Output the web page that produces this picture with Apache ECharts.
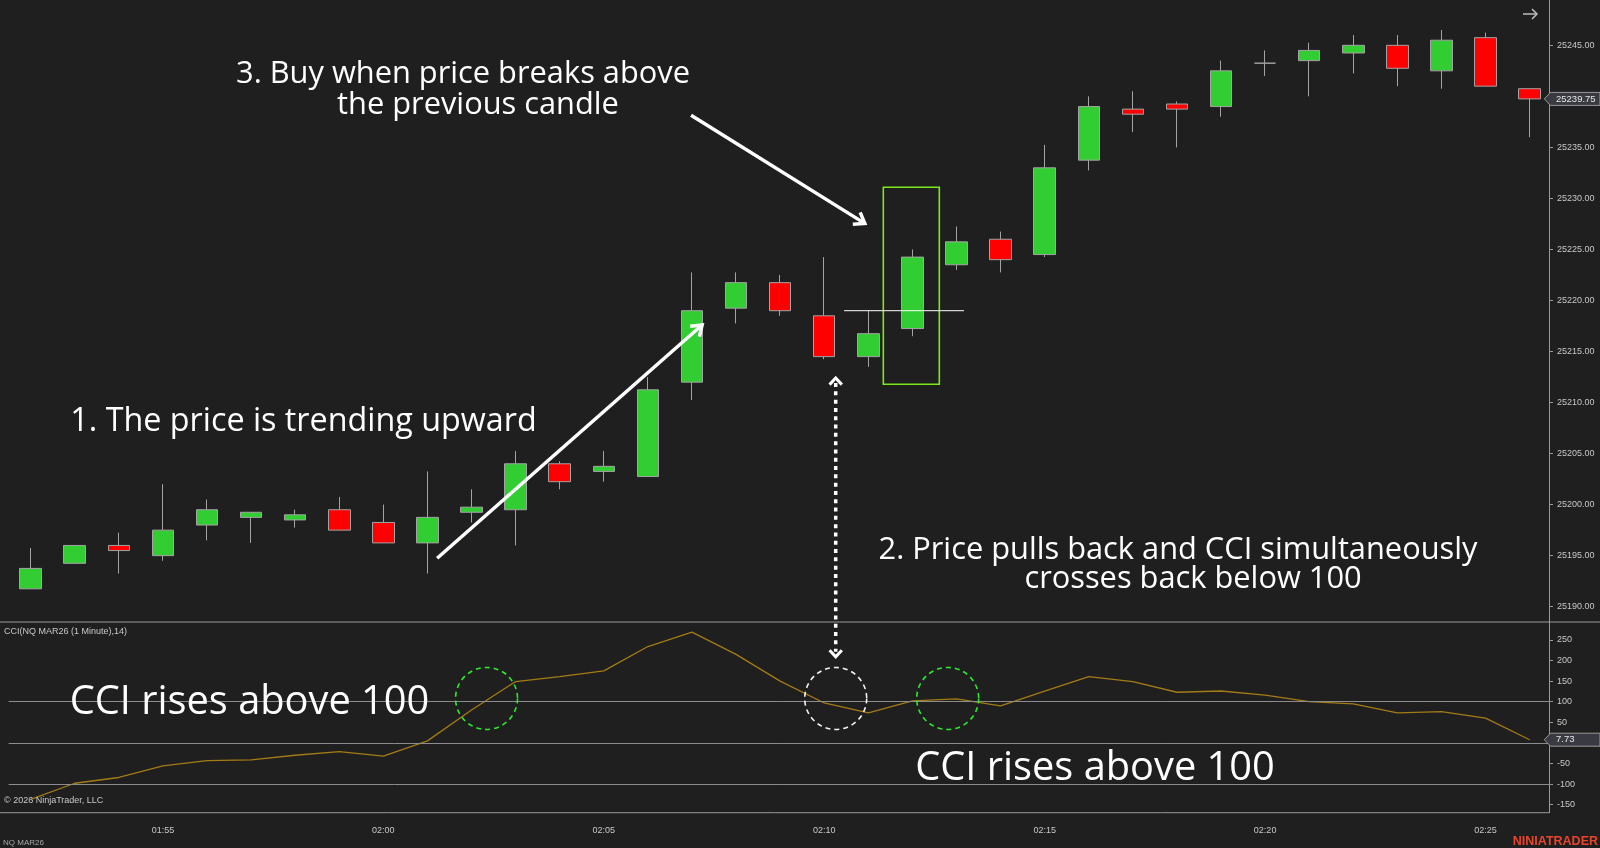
<!DOCTYPE html>
<html>
<head>
<meta charset="utf-8">
<title>CCI pullback entry</title>
<script src="https://cdn.jsdelivr.net/npm/echarts@6.0.0/dist/echarts.min.js"></script>
<style>
    html, body { margin: 0; padding: 0; background: #1f1f1f; }
    #main { width: 1600px; height: 848px; }
</style>
</head>
<body>
<div id="main"></div>
<script>
'use strict';

// NQ MAR26, 1 minute bars
var times = ['01:52', '01:53', '01:54', '01:55', '01:56', '01:57', '01:58', '01:59', '02:00', '02:01',
    '02:02', '02:03', '02:04', '02:05', '02:06', '02:07', '02:08', '02:09', '02:10', '02:11',
    '02:12', '02:13', '02:14', '02:15', '02:16', '02:17', '02:18', '02:19', '02:20', '02:21',
    '02:22', '02:23', '02:24', '02:25', '02:26'];
var opens = [25191.75, 25194.25, 25196, 25195, 25198, 25198.75, 25198.5, 25199.5, 25198.25, 25196.25,
    25199.25, 25199.5, 25204, 25203.25, 25202.75, 25212, 25219.25, 25221.75, 25218.5, 25214.5,
    25217.25, 25223.5, 25226, 25224.5, 25233.75, 25238.75, 25239.25, 25239, 25243.25, 25243.5,
    25244.25, 25245, 25242.5, 25245.75, 25240.75];
var closes = [25193.75, 25196, 25195.5, 25197.5, 25199.5, 25199.25, 25199, 25197.5, 25196.25, 25198.75,
    25199.75, 25204, 25202.25, 25203.75, 25211.25, 25219, 25221.75, 25219, 25214.5, 25216.75,
    25224.25, 25225.75, 25224, 25233, 25239, 25238.25, 25238.75, 25242.5, 25243.25, 25244.5,
    25245, 25242.75, 25245.5, 25241, 25239.75];
var lows = [25191.75, 25194.25, 25193.25, 25194.5, 25196.5, 25196.25, 25197.75, 25197.5, 25196.25, 25193.25,
    25198.25, 25196, 25201.5, 25202.25, 25202.75, 25210.25, 25217.75, 25218.5, 25214.25, 25213.5,
    25216.5, 25223, 25222.75, 25224.25, 25232.75, 25236.5, 25235, 25238, 25242, 25240,
    25242.25, 25241, 25240.75, 25241, 25236];
var highs = [25195.75, 25196, 25197.25, 25202, 25200.5, 25199.25, 25199.5, 25200.75, 25200, 25203.25,
    25201.5, 25205.25, 25204.25, 25205.25, 25212.5, 25222.75, 25222.75, 25222.5, 25224.25, 25219,
    25225, 25227.25, 25226.75, 25235.25, 25240, 25240.5, 25239.5, 25243.5, 25244.5, 25245.25,
    25246, 25246, 25246.5, 25246.25, 25240.75];
// CCI(14)
var cci = [-137, -98, -84, -56, -43, -41, -30, -21, -32, 5,
    80, 149, 161, 175, 234, 269, 215, 150, 97, 73,
    102, 107, 90, 126, 161, 149, 123, 126, 116, 100,
    95, 73, 76, 60, 7.73];

var priceTicks = [25190, 25195, 25200, 25205, 25210, 25215, 25220, 25225, 25230, 25235, 25240, 25245];
var cciTicks = [-150, -100, -50, 50, 100, 150, 200, 250];
var cciLevels = [100, 0, -100];

// annotation anchors: [bar index, value]
var trendArrow = [[9.22, 25194.75], [15.23, 25217.6]];
var buyArrow = [[14.98, 25238.15], [18.92, 25227.55]];
var buyBox = [[19.34, 25231.1], [20.61, 25211.8]];
var breakLine = [[18.45, 25219], [21.17, 25219]];
var pullback = { bar: 18.26, price: 25212.4, cci: 209 };
var cciCircles = [[10.34, 108], [18.26, 108], [20.8, 108]];

var axisFont = '"Liberation Sans", Arial, sans-serif';
var noteFont = '"Open Sans", sans-serif';
var lineGray = '#9a9a9a';

var chart = echarts.init(document.getElementById('main'));

var candles = times.map(function(t, i) {
    return [opens[i], closes[i], lows[i], highs[i]];
});

var option = {
    backgroundColor: '#1f1f1f',
    animation: false,
    grid: [
        { left: 8.6, width: 1543.1, top: 0, height: 622 },
        { left: 8.6, width: 1543.1, top: 622, height: 190.7 }
    ],
    xAxis: [{
        type: 'category',
        gridIndex: 0,
        data: times,
        show: false
    }, {
        type: 'category',
        gridIndex: 1,
        data: times,
        axisLine: { show: false },
        axisTick: {
            alignWithLabel: true,
            length: 4,
            interval: function(i, v) { return /[05]$/.test(v); },
            lineStyle: { color: lineGray }
        },
        axisLabel: {
            interval: function(i, v) { return /[05]$/.test(v); },
            color: '#c8c8c8',
            fontSize: 9,
            fontFamily: axisFont,
            margin: 13
        },
        splitLine: { show: false }
    }],
    yAxis: [{
        type: 'value',
        gridIndex: 0,
        position: 'right',
        offset: -2.7,
        min: 25188.5,
        max: 25249.44,
        splitLine: { show: false },
        axisLine: { show: true, lineStyle: { color: lineGray } },
        axisTick: { show: true, length: 4, customValues: priceTicks, lineStyle: { color: lineGray } },
        axisLabel: {
            customValues: priceTicks,
            formatter: function(v) { return v.toFixed(2); },
            color: '#c8c8c8',
            fontSize: 9,
            fontFamily: axisFont,
            margin: 8
        }
    }, {
        type: 'value',
        gridIndex: 1,
        position: 'right',
        offset: -2.7,
        min: -169.5,
        max: 293.6,
        splitLine: { show: false },
        axisLine: { show: true, lineStyle: { color: lineGray } },
        axisTick: { show: true, length: 4, customValues: cciTicks, lineStyle: { color: lineGray } },
        axisLabel: {
            customValues: cciTicks,
            color: '#c8c8c8',
            fontSize: 9,
            fontFamily: axisFont,
            margin: 8
        }
    }],
    series: [{
        name: 'NQ MAR26',
        type: 'candlestick',
        xAxisIndex: 0,
        yAxisIndex: 0,
        data: candles,
        barWidth: 22,
        itemStyle: {
            color: '#32cd32',
            color0: '#ff0000',
            borderColor: '#a3a3a3',
            borderColor0: '#a3a3a3',
            borderColorDoji: '#a3a3a3',
            borderWidth: 1
        }
    }, {
        name: 'CCI',
        type: 'line',
        xAxisIndex: 1,
        yAxisIndex: 1,
        data: cci,
        symbol: 'none',
        lineStyle: { color: '#a47c16', width: 1.3 },
        markLine: {
            silent: true,
            symbol: 'none',
            label: { show: false },
            lineStyle: { color: '#8c8c8c', type: 'solid', width: 1 },
            data: cciLevels.map(function(v) { return { yAxis: v }; })
        }
    }]
};
chart.setOption(option);

// pixel helpers, fractional bar index allowed
function xAt(idx) {
    var a = chart.convertToPixel({ xAxisIndex: 0 }, times[0]);
    var b = chart.convertToPixel({ xAxisIndex: 0 }, times[1]);
    return a + (b - a) * idx;
}
function yPrice(v) { return chart.convertToPixel({ yAxisIndex: 0 }, v); }
function yCci(v) { return chart.convertToPixel({ yAxisIndex: 1 }, v); }

function chevron(x, y, ang, len, spread) {
    return [
        [x - len * Math.cos(ang - spread), y - len * Math.sin(ang - spread)],
        [x, y],
        [x - len * Math.cos(ang + spread), y - len * Math.sin(ang + spread)]
    ];
}

function line(x1, y1, x2, y2, stroke, w, dash) {
    return {
        type: 'line', z: 50, silent: true,
        shape: { x1: x1, y1: y1, x2: x2, y2: y2 },
        style: { stroke: stroke, lineWidth: w, lineDash: dash || null, lineCap: 'butt' }
    };
}
function poly(points, stroke, w) {
    return {
        type: 'polyline', z: 50, silent: true,
        shape: { points: points },
        style: { stroke: stroke, lineWidth: w, fill: null, lineJoin: 'miter' }
    };
}
function text(str, x, y, size, opts) {
    opts = opts || {};
    return {
        type: 'text', z: 60, silent: true,
        style: {
            text: str, x: x, y: y,
            fill: opts.fill || '#ffffff',
            fontSize: size,
            fontFamily: opts.family || noteFont,
            fontWeight: opts.weight || 'normal',
            align: opts.align || 'center',
            verticalAlign: 'middle'
        }
    };
}
function arrow(p0, p1) {
    var x0 = xAt(p0[0]), y0 = yPrice(p0[1]);
    var x1 = xAt(p1[0]), y1 = yPrice(p1[1]);
    var ang = Math.atan2(y1 - y0, x1 - x0);
    return [
        line(x0, y0, x1 - 2 * Math.cos(ang), y1 - 2 * Math.sin(ang), '#ffffff', 3.5),
        poly(chevron(x1, y1, ang, 12, 0.62), '#ffffff', 3.5)
    ];
}
function valueTag(str, y) {
    return [{
        type: 'polygon', z: 55, silent: true,
        shape: { points: [[1544.3, y], [1550.5, y - 6.5], [1600, y - 6.5], [1600, y + 6.5], [1550.5, y + 6.5]] },
        style: { fill: '#3a3a42', stroke: '#9a9a9a', lineWidth: 1 }
    }, text(str, 1556, y, 9.5, { align: 'left', family: axisFont, fill: '#e6e6e6' })];
}

function buildGraphic() {
    var els = [];

    // panel frame
    els.push(line(0, 622, 1600, 622, lineGray, 1));
    els.push(line(0, 812.7, 1549, 812.7, lineGray, 1));

    // 1. trend arrow, 3. buy arrow
    els = els.concat(arrow(trendArrow[0], trendArrow[1]));
    els = els.concat(arrow(buyArrow[0], buyArrow[1]));

    // entry candle box and break level
    var bx0 = xAt(buyBox[0][0]), by0 = yPrice(buyBox[0][1]);
    var bx1 = xAt(buyBox[1][0]), by1 = yPrice(buyBox[1][1]);
    els.push({
        type: 'rect', z: 50, silent: true,
        shape: { x: bx0, y: by0, width: bx1 - bx0, height: by1 - by0 },
        style: { fill: null, stroke: '#7ce81c', lineWidth: 1.6 }
    });
    var ly = yPrice(breakLine[0][1]);
    els.push(line(xAt(breakLine[0][0]), ly, xAt(breakLine[1][0]), ly, '#ffffff', 1));

    // dotted pullback arrow linking price and CCI
    var px = xAt(pullback.bar), pyTop = yPrice(pullback.price), pyBot = yCci(pullback.cci);
    els.push(line(px, pyTop + 5, px, pyBot - 5, '#ffffff', 3.5, [4, 4.3]));
    els.push(poly(chevron(px, pyTop, -Math.PI / 2, 9, 0.75), '#ffffff', 3));
    els.push(poly(chevron(px, pyBot, Math.PI / 2, 9, 0.75), '#ffffff', 3));

    // CCI cross circles
    cciCircles.forEach(function(c, i) {
        els.push({
            type: 'circle', z: 50, silent: true,
            shape: { cx: xAt(c[0]), cy: yCci(c[1]), r: 31 },
            style: { fill: null, stroke: i === 1 ? '#f2f2f2' : '#2ee82e', lineWidth: 1.6, lineDash: [5, 4] }
        });
    });

    // notes
    els.push(text('3. Buy when price breaks above', 463, 74, 30.8));
    els.push(text('the previous candle', 478, 105, 30.8));
    els.push(text('1. The price is trending upward', 303.5, 422, 32.3));
    els.push(text('2. Price pulls back and CCI simultaneously', 1178, 550, 30.8));
    els.push(text('crosses back below 100', 1193, 579, 30.8));
    els.push(text('CCI rises above 100', 249.5, 703, 39.8));
    els.push(text('CCI rises above 100', 1095, 769, 39.8));

    // small chart texts
    els.push(text('CCI(NQ MAR26 (1 Minute),14)', 4, 632, 9, { align: 'left', family: axisFont, fill: '#c8c8c8' }));
    els.push(text('\u00a9 2026 NinjaTrader, LLC', 4, 801, 9, { align: 'left', family: axisFont, fill: '#c8c8c8' }));
    els.push(text('NQ MAR26', 3, 843, 8, { align: 'left', family: axisFont, fill: '#a8a8a8' }));
    els.push(text('NINIATRADER', 1598, 842, 12.5, { align: 'right', family: axisFont, weight: 'bold', fill: '#e8452c' }));

    // scroll arrow, top right
    els.push(line(1523, 14, 1537, 14, '#bdbdbd', 1.5));
    els.push(poly([[1532, 9], [1537, 14], [1532, 19]], '#bdbdbd', 1.5));

    // last value tags
    els = els.concat(valueTag(closes[closes.length - 1].toFixed(2), yPrice(closes[closes.length - 1])));
    els = els.concat(valueTag(String(cci[cci.length - 1]), yCci(cci[cci.length - 1])));

    return els;
}

chart.setOption({ graphic: buildGraphic() });

window.addEventListener('resize', function() {
    chart.resize();
    chart.setOption({ graphic: buildGraphic() }, { replaceMerge: ['graphic'] });
});
</script>
</body>
</html>
